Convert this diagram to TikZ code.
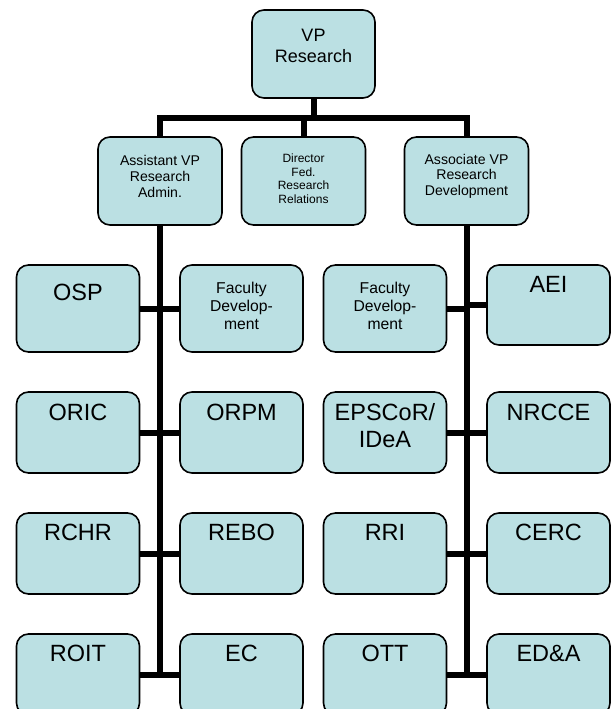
\documentclass[tikz,border=0pt]{standalone}
\usepackage{fontspec}
\setmainfont{Liberation Sans}
\definecolor{boxblue}{RGB}{187,224,227}
\newcommand\lift[2]{\raisebox{#1}[0pt][0pt]{\begin{tabular}[t]{@{}c@{}}#2\end{tabular}}}
\tikzset{
  unit/.style={draw,line width=1.6pt,fill=boxblue,rounded corners=12pt,inner sep=0pt,
    minimum width=123pt,minimum height=81pt},
  trunk/.style={line width=6pt},
  acr/.style={font=\fontsize{23.5}{27}\selectfont},
  fac/.style={font=\fontsize{15.7}{18}\selectfont}
}
\begin{document}
\begin{tikzpicture}[x=1pt,y=-1pt]
\useasboundingbox (0,0) rectangle (615,709);
%=======top=============
\node[unit,minimum height=88pt,font=\fontsize{18}{21}\selectfont] (vp) at (313.5,54) {\lift{12pt}{VP\\Research}};
%=======level 2=============
\node[unit,minimum width=124pt,minimum height=88pt,font=\fontsize{14.1}{16}\selectfont] (asst) at (160,181) {\lift{16pt}{Assistant VP\\Research\\Admin.}};
\node[unit,minimum width=124pt,minimum height=88pt,font=\fontsize{12}{13.5}\selectfont] (dir) at (303.5,181) {\lift{18.4pt}{Director\\Fed.\\Research\\Relations}};
\node[unit,minimum width=124pt,minimum height=88pt,font=\fontsize{14.1}{15.5}\selectfont] (assoc) at (466.5,181) {\lift{17pt}{Associate VP\\Research\\Development}};
\coordinate (hub) at (313.5,118);
\draw[trunk] (vp) -- (hub);
\draw[trunk] (asst) |- (hub) -| (assoc);
\draw[trunk] (dir) -- (dir |- hub);
%=======admin side=============
\node[unit,acr,minimum height=87pt] (osp) at (78,308.5) {\lift{8.5pt}{OSP}};
\node[unit,fac,minimum height=87pt] (facl) at (241.5,308.5) {\lift{15.5pt}{Faculty\\Develop-\\ment}};
\node[unit,acr] (oric) at (78,432.5) {\lift{12.5pt}{ORIC}};
\node[unit,acr] (orpm) at (241.5,432.5) {\lift{12.5pt}{ORPM}};
\node[unit,acr] (rchr) at (78,553.5) {\lift{13.5pt}{RCHR}};
\node[unit,acr] (rebo) at (241.5,553.5) {\lift{13.5pt}{REBO}};
\node[unit,acr] (roit) at (78,674.5) {\lift{13.5pt}{ROIT}};
\node[unit,acr] (ec) at (241.5,674.5) {\lift{13.5pt}{EC}};
\draw[trunk] (asst) -- (asst |- roit);
\draw[trunk] (osp) -- (facl);
\draw[trunk] (oric) -- (orpm);
\draw[trunk] (rchr) -- (rebo);
\draw[trunk] (roit) -- (ec);
%=======development side=============
\node[unit,fac,minimum height=87pt] (facr) at (385,308.5) {\lift{15.5pt}{Faculty\\Develop-\\ment}};
\node[unit,acr,minimum height=80pt] (aei) at (548.5,305) {\lift{12.3pt}{AEI}};
\node[unit,acr] (epscor) at (385,432.5) {\lift{12.5pt}{EPSCoR/\\IDeA}};
\node[unit,acr] (nrcce) at (548.5,432.5) {\lift{12.5pt}{NRCCE}};
\node[unit,acr] (rri) at (385,553.5) {\lift{13.5pt}{RRI}};
\node[unit,acr] (cerc) at (548.5,553.5) {\lift{13.5pt}{CERC}};
\node[unit,acr] (ott) at (385,674.5) {\lift{13.5pt}{OTT}};
\node[unit,acr] (eda) at (548.5,674.5) {\lift{13.5pt}{ED\&A}};
\draw[trunk] (assoc) -- (assoc |- eda);
\draw[trunk] (facr) -- (facr -| assoc);
\draw[trunk] (aei) -- (aei -| assoc);
\draw[trunk] (epscor) -- (nrcce);
\draw[trunk] (rri) -- (cerc);
\draw[trunk] (ott) -- (eda);
\end{tikzpicture}
\end{document}
